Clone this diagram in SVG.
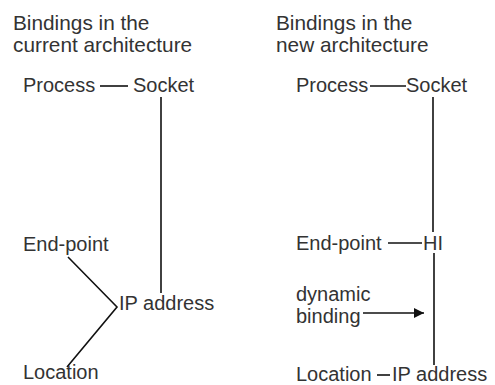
<svg xmlns="http://www.w3.org/2000/svg" width="495" height="385" viewBox="0 0 495 385">
<defs>
<style>
text{font-family:"Liberation Sans",Arial,sans-serif;font-size:20px;fill:#333}
.t{font-size:20.8px}
.ln{stroke:#111;stroke-width:1.6;fill:none}
</style>
<marker id="ah" viewBox="0 0 10 10" refX="10" refY="5" markerWidth="10" markerHeight="10" markerUnits="userSpaceOnUse" orient="auto"><path d="M0,0 L10,5 L0,10 z" fill="#111"/></marker>
</defs>
<rect width="495" height="385" fill="#fff"/>
<g id="title-current"><text class="t" x="13" y="30">Bindings in the</text><text class="t" x="13" y="52">current architecture</text></g>
<g id="title-new"><text class="t" x="276" y="30">Bindings in the</text><text class="t" x="276" y="52">new architecture</text></g>
<g id="l-process"><text x="23" y="92">Process</text></g>
<g id="l-socket"><text x="133" y="92">Socket</text></g>
<g id="l-endpoint"><text x="23" y="251">End-point</text></g>
<g id="l-ip"><text x="119" y="310">IP address</text></g>
<g id="l-location"><text x="23" y="379">Location</text></g>
<g id="r-process"><text x="296" y="92">Process</text></g>
<g id="r-socket"><text x="406" y="92">Socket</text></g>
<g id="r-endpoint"><text x="296" y="250">End-point</text></g>
<g id="r-hi"><text x="423" y="250">HI</text></g>
<g id="r-dynamic"><text x="296" y="301">dynamic</text><text x="296" y="323">binding</text></g>
<g id="r-location"><text x="296" y="381">Location</text></g>
<g id="r-ip"><text x="392" y="381">IP address</text></g>
<g id="connectors">
<line class="ln" x1="100" y1="86" x2="128" y2="86"/>
<line class="ln" x1="161" y1="97" x2="161" y2="293" stroke-width="2"/>
<polyline class="ln" points="68,257 117,307 67,367"/>
<line class="ln" x1="370" y1="86" x2="406" y2="86"/>
<line class="ln" x1="433" y1="97" x2="433" y2="232"/>
<line class="ln" x1="388" y1="243" x2="422" y2="243"/>
<line class="ln" x1="434" y1="253" x2="434" y2="365"/>
<line class="ln" x1="363" y1="313" x2="424" y2="313" marker-end="url(#ah)"/>
<line class="ln" x1="377" y1="375" x2="390" y2="375"/>
</g>
</svg>
